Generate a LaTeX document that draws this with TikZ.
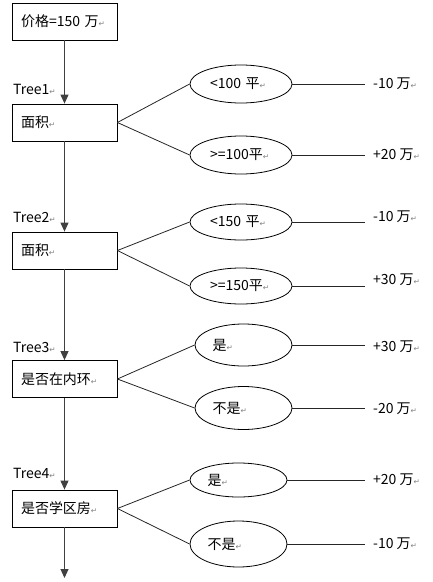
\documentclass[tikz,border=0pt]{standalone}
\usepackage{fontspec}
\setmainfont{Noto Sans CJK SC}
\newfontfamily\symfont{DejaVu Sans}
\usetikzlibrary{arrows.meta,shapes.geometric}
\tikzset{%
   box/.style={rectangle, draw=black, line width=0.8pt, minimum width=105pt, minimum height=37pt, text width=87pt, align=left, inner sep=0pt},
   leaf/.style={ellipse, draw=black, line width=0.8pt, minimum width=102pt, minimum height=38pt, text width=62pt, align=left, inner sep=0pt},
   val/.style={anchor=west, inner sep=0pt, inner xsep=8pt},
   tree/.style={anchor=west, inner sep=0pt},
   stem/.style={draw=black!75, line width=1pt, -{Triangle[width=8pt,length=9pt]}},
   twig/.style={draw=black!85, line width=0.8pt},
}
\newcommand\rt{{\symfont\fontsize{7.5}{7.5}\selectfont\textcolor{gray}{↵}}}

\begin{document}
\begin{tikzpicture}[x=1pt, y=-1pt, font=\fontsize{14}{16}\selectfont]
      \useasboundingbox (0,0) rectangle (432,582);
      % main chain
      \node[box] (p) at (64.5,21.5) {价格=150 万\rt};
      \node[box] (b1) at (64.5,122.5) {面积\rt};
      \node[box] (b2) at (64.5,250.5) {面积\rt};
      \node[box] (b3) at (64.5,379) {是否在内环\rt};
      \node[box] (b4) at (64.5,508.5) {是否学区房\rt};
      \coordinate (end) at (64.5,578);
      \node[tree] (t1) at (13,89) {Tree1\rt};
      \node[tree] (t2) at (13,217) {Tree2\rt};
      \node[tree] (t3) at (13,347) {Tree3\rt};
      \node[tree] (t4) at (13,473) {Tree4\rt};
      \draw[stem] (p.south) -- (b1.north);
      \draw[stem] (b1.south) -- (b2.north);
      \draw[stem] (b2.south) -- (b3.north);
      \draw[stem] (b3.south) -- (b4.north);
      \draw[stem] (b4.south) -- (end);
      % branches
      \node[leaf] (e11) at (241,84) {<100 平\rt};
      \node[leaf] (e12) at (241,155) {>=100平\rt};
      \node[leaf] (e21) at (241,222) [minimum height=36pt] {<150 平\rt};
      \node[leaf] (e22) at (241,286) [minimum height=36pt] {>=150平\rt};
      \node[leaf] (e31) at (243.5,345) [minimum width=97pt, minimum height=42pt] {是\rt};
      \node[leaf] (e32) at (243.5,408) [minimum width=97pt, minimum height=43pt] {不是\rt};
      \node[leaf] (e41) at (238.5,480) [minimum width=97pt, minimum height=34pt] {是\rt};
      \node[leaf] (e42) at (238.5,544) [minimum width=97pt, minimum height=46pt] {不是\rt};
      \node[val] (v11) at (365,84) {-10 万\rt};
      \node[val] (v12) at (365,155) {+20 万\rt};
      \node[val] (v21) at (365,217) {-10 万\rt};
      \node[val] (v22) at (365,280) {+30 万\rt};
      \node[val] (v31) at (365,347) {+30 万\rt};
      \node[val] (v32) at (365,409) {-20 万\rt};
      \node[val] (v41) at (365,480) {+20 万\rt};
      \node[val] (v42) at (365,544) {-10 万\rt};
      \draw[twig] (b1.east) -- (e11.west);
      \draw[twig] (b1.east) -- (e12.west);
      \draw[twig] (b2.east) -- (e21.west);
      \draw[twig] (b2.east) -- (e22.west);
      \draw[twig] (b3.east) -- (e31.west);
      \draw[twig] (b3.east) -- (e32.west);
      \draw[twig] (b4.east) -- (e41.west);
      \draw[twig] (b4.east) -- (e42.west);
      \draw[twig] (e11.east) -- (v11.west |- e11.east);
      \draw[twig] (e12.east) -- (v12.west |- e12.east);
      \draw[twig] (e21.east) -- (v21.west |- e21.east);
      \draw[twig] (e22.east) -- (v22.west |- e22.east);
      \draw[twig] (e31.east) -- (v31.west |- e31.east);
      \draw[twig] (e32.east) -- (v32.west |- e32.east);
      \draw[twig] (e41.east) -- (v41.west |- e41.east);
      \draw[twig] (e42.east) -- (v42.west |- e42.east);
\end{tikzpicture}
\end{document}
